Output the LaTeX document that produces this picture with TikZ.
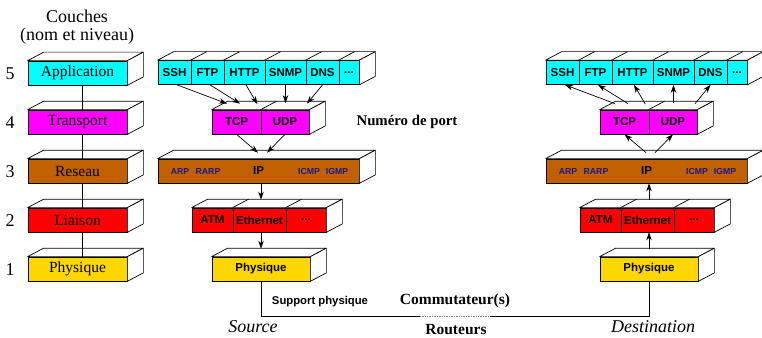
\documentclass[tikz,border=0pt]{standalone}
\usepackage{fontspec}
\setmainfont{Liberation Serif}
\setsansfont{Liberation Sans}
\usetikzlibrary{arrows.meta}
\definecolor{cApp}{RGB}{0,255,255}
\definecolor{cTr}{RGB}{255,0,255}
\definecolor{cNet}{RGB}{192,96,0}
\definecolor{cLink}{RGB}{255,0,0}
\definecolor{cPhy}{RGB}{255,215,0}
\definecolor{cProto}{RGB}{25,25,140}
% top and right faces of a 3D box whose front runs from node #1 to node #2
\newcommand\boxfaces[2]{%
  \draw[face] (#1.north west) -- ++(16,-8.5) -- ([shift={(16,-8.5)}]#2.north east) -- (#2.north east) -- cycle;
  \draw[face] (#2.north east) -- ++(16,-8.5) -- ([shift={(16,-8.5)}]#2.south east) -- (#2.south east) -- cycle;}
\newcommand\topdiv[1]{\draw[face] (#1.north west) -- ++(16,-8.5);}
% one protocol stack; #1 prefix, #2 shift, #3 arrow style
\newcommand\protostack[3]{%
\begin{scope}[xshift=#2]
  \node[cell, fill=cApp, minimum width=33pt] (#1ssh) at (174.5,72.5) {SSH};
  \node[cell, fill=cApp, minimum width=33pt] (#1ftp) at (207.5,72.5) {FTP};
  \node[cell, fill=cApp, minimum width=41pt] (#1http) at (244.5,72.5) {HTTP};
  \node[cell, fill=cApp, minimum width=41pt] (#1snmp) at (285.5,72.5) {SNMP};
  \node[cell, fill=cApp, minimum width=33pt] (#1dns) at (322.5,72.5) {DNS};
  \node[cell, fill=cApp, minimum width=20pt] (#1adots) at (349,72.5) {...};
  \boxfaces{#1ssh}{#1adots}
  \topdiv{#1ftp}\topdiv{#1http}\topdiv{#1snmp}\topdiv{#1dns}\topdiv{#1adots}
  \node[cell, fill=cTr, minimum width=49pt] (#1tcp) at (236.5,122) {TCP};
  \node[cell, fill=cTr, minimum width=48pt] (#1udp) at (285,122) {UDP};
  \boxfaces{#1tcp}{#1udp}
  \topdiv{#1udp}
  \node[cell, fill=cNet, minimum width=201pt] (#1ip) at (258.5,171) {IP};
  \boxfaces{#1ip}{#1ip}
  \node[proto] (#1arp) at (180,171.5) {ARP};
  \node[proto] (#1rarp) at (208,171.5) {RARP};
  \node[proto] (#1icmp) at (309,171.5) {ICMP};
  \node[proto] (#1igmp) at (337,171.5) {IGMP};
  \node[cell, fill=cLink, minimum width=41pt] (#1atm) at (212.5,220) {ATM};
  \node[cell, fill=cLink, minimum width=53pt] (#1eth) at (259.5,220) {Ethernet};
  \node[cell, fill=cLink, minimum width=40pt] (#1ldots) at (306,220) {...};
  \boxfaces{#1atm}{#1ldots}
  \topdiv{#1eth}\topdiv{#1ldots}
  \node[cell, fill=cPhy, minimum width=98pt] (#1phy) at (261,269) {Physique};
  \boxfaces{#1phy}{#1phy}
  \draw[#3] ([xshift=2.5]#1ssh.south) -- ([shift={(-9.5,-6)}]#1tcp.north);
  \draw[#3] ([xshift=2.5]#1ftp.south) -- ([shift={(3.5,-6)}]#1tcp.north);
  \draw[#3] ([xshift=1.5]#1http.south) -- ([shift={(-4,-5.5)}]#1tcp.north east);
  \draw[#3] (#1snmp.south) -- ([shift={(0.5,-6.5)}]#1udp.north);
  \draw[#3] (#1dns.south) -- ([shift={(22,-6)}]#1udp.north);
  \draw[#3] (#1tcp.south) -- ([shift={(-0.5,-6)}]#1ip.north);
  \draw[#3] (#1udp.south) -- ([shift={(8.5,-6)}]#1ip.north);
  \draw[#3] ([xshift=2.5]#1ip.south) -- ([shift={(1.5,-8)}]#1eth.north);
  \draw[#3] ([xshift=1.5]#1eth.south) -- ([shift={(0,-8)}]#1phy.north);
\end{scope}}
\begin{document}
\begin{tikzpicture}[x=1pt,y=-1pt,
  cell/.style={draw, line width=0.7pt, inner sep=0pt, minimum height=24pt,
    font=\sffamily\bfseries\fontsize{11.5}{12}\selectfont},
  layer/.style={draw, line width=0.7pt, inner sep=0pt, minimum height=24pt, minimum width=99pt,
    font=\fontsize{15.5}{16}\selectfont},
  face/.style={draw, fill=white, line width=0.7pt, line join=round},
  proto/.style={inner sep=0pt, text=cProto, font=\sffamily\bfseries\fontsize{8.7}{9}\selectfont},
  num/.style={inner sep=0pt, font=\fontsize{18}{19}\selectfont},
  head/.style={inner sep=0pt, font=\fontsize{18}{19}\selectfont},
  bold/.style={inner sep=0pt, font=\bfseries\fontsize{15.5}{16}\selectfont},
  ital/.style={inner sep=0pt, font=\itshape\fontsize{18}{19}\selectfont},
  arr/.style={-{Stealth[length=8pt,width=5.5pt,inset=2.5pt]}, line width=0.7pt},
  rarr/.style={{Stealth[length=8pt,width=5.5pt,inset=2.5pt]}-, line width=0.7pt},
  link/.style={line width=0.7pt}]
\useasboundingbox (0,0) rectangle (762,337);
% left column
\node[head] (couches) at (77,16) {Couches};
\node[head] (nomniv) at (77,36) {(nom et niveau)};
\node[layer, fill=cApp] (lapp) at (77.5,73) {Application};
\node[layer, fill=cTr] (ltr) at (77.5,122) {Transport};
\node[layer, fill=cNet] (lnet) at (77.5,171) {Reseau};
\node[layer, fill=cLink] (llink) at (77.5,220) {Liaison};
\node[layer, fill=cPhy] (lphy) at (77.5,269) {Physique};
\foreach \n in {lapp,ltr,lnet,llink,lphy}{\boxfaces{\n}{\n}}
\draw[link] ([xshift=4.5]lapp.south) -- ([xshift=4.5]ltr.north);
\draw[link] ([xshift=4.5]ltr.south) -- ([xshift=4.5]lnet.north);
\draw[link] ([xshift=4.5]lnet.south) -- ([xshift=4.5]llink.north);
\draw[link] ([xshift=4.5]llink.south) -- ([xshift=4.5]lphy.north);
\node[num] (n5) at (10,74) {5};
\node[num] (n4) at (10,123) {4};
\node[num] (n3) at (10,172) {3};
\node[num] (n2) at (10,221) {2};
\node[num] (n1) at (10,270) {1};
% stacks
\protostack{s}{0pt}{arr}
\protostack{d}{388pt}{rarr}
% texts
\node[bold, font=\bfseries\fontsize{14.8}{16}\selectfont] (port) at (407,122) {Numéro de port};
\node[inner sep=0pt, font=\sffamily\bfseries\fontsize{11.3}{12}\selectfont] (support) at (320,302) {Support physique};
\node[bold] (commut) at (455,301) {Commutateur(s)};
\node[bold] (rout) at (456,330) {Routeurs};
\node[ital] (source) at (253,327) {Source};
\node[ital] (dest) at (653,327) {Destination};
% physical medium
\coordinate (g1) at (420,316);
\coordinate (g2) at (490,316);
\draw[link] (sphy.south) |- (g1);
\draw[link, densely dotted, gray] (g1) -- (g2);
\draw[link] (g2) -| (dphy.south);
\end{tikzpicture}
\end{document}
